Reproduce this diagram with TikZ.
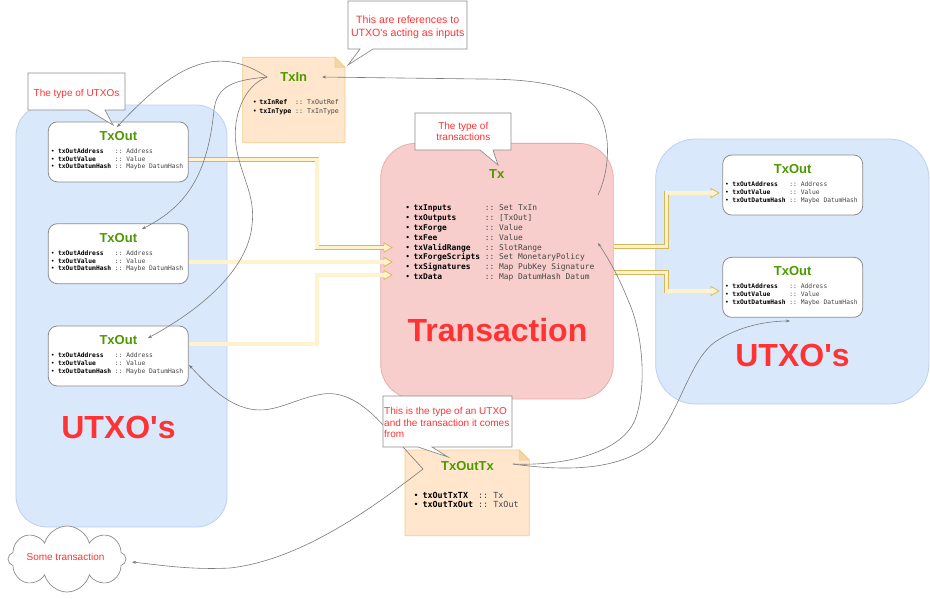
\documentclass[tikz,border=0pt]{standalone}
\usepackage{fontspec}
\setmainfont{Liberation Sans}[Ligatures=TeXOff]
\setmonofont{DejaVu Sans Mono}
\usetikzlibrary{shapes.symbols,arrows.meta,calc}
\definecolor{blueF}{HTML}{DAE8FC}
\definecolor{blueD}{HTML}{BCD0EE}
\definecolor{pinkF}{HTML}{F8CECC}
\definecolor{pinkD}{HTML}{E5AEAC}
\definecolor{orF}{HTML}{FFE6CC}
\definecolor{orD}{HTML}{F2CF8E}
\definecolor{orFold}{HTML}{F3D5A8}
\definecolor{yelF}{HTML}{FFF2CC}
\definecolor{yelD}{HTML}{D6B656}
\definecolor{grn}{HTML}{4D9900}
\definecolor{redT}{HTML}{FF3333}
\definecolor{lineC}{HTML}{7A7A7A}
\definecolor{boxD}{HTML}{8C8C8C}
\definecolor{typC}{HTML}{444444}
\newcommand\flist[4]{{\fontsize{#1}{#2}\selectfont\ttfamily\begin{tabular}[t]{@{}l@{\hskip #3}l@{\hskip 0.6em}l@{}}#4\end{tabular}}}
\newcommand\frow[2]{•&\textbf{#1}&\textcolor{typC}{:: #2}\\}
\newcommand\notebox[4]{%
  \filldraw[note] (#1,#2) -- ({#3-10},#2) -- (#3,{#2+10}) -- (#3,#4) -- (#1,#4) -- cycle;
  \filldraw[fold] ({#3-10},#2) -- ({#3-10},{#2+10}) -- (#3,{#2+10}) -- cycle;}
\newcommand\calloutbox[8]{%
  \filldraw[call] (#1,#2) -- (#3,#2) -- (#3,#4) -- (#6,#4) -- (#7,#8) -- (#5,#4) -- (#1,#4) -- cycle;}
\newcommand\yhead[1]{%
  \fill[yelF] ($(#1)+(-8,-4.6)$) -- (#1) -- ($(#1)+(-8,4.6)$) -- cycle;
  \draw[yelD,line width=0.7pt,line join=miter] ($(#1)+(-8,-2.3)$) -- ($(#1)+(-8,-4.6)$) -- (#1) -- ($(#1)+(-8,4.6)$) -- ($(#1)+(-8,2.3)$);}
\begin{document}
\begin{tikzpicture}[x=1pt,y=-1pt,
 panel/.style={draw=blueD, fill=blueF, line width=0.8pt, inner sep=0pt},
 txbox/.style={draw=pinkD, fill=pinkF, line width=0.8pt, rounded corners=35pt, inner sep=0pt},
 outbox/.style={draw=boxD, fill=white, line width=0.8pt, rounded corners=9pt, minimum width=140pt, minimum height=60pt, inner sep=0pt},
 ttl/.style={font=\fontsize{13}{15}\selectfont\bfseries, text=grn, inner sep=0pt},
 big/.style={font=\fontsize{32}{36}\selectfont\bfseries, text=redT, inner sep=0pt},
 fld/.style={anchor=base west, inner sep=0pt},
 yel/.style={draw=yelD, double=yelF, double distance=3.4pt, line width=0.7pt, line join=miter},
 conn/.style={draw=lineC, line width=0.6pt, -{Stealth[length=4pt,width=3pt]}},
 call/.style={draw=boxD, fill=white, line width=0.7pt},
 calltxt/.style={font=\fontsize{10}{12}\selectfont, text=redT, inner sep=0pt},
 note/.style={fill=orF, draw=orD, line width=0.8pt},
 fold/.style={fill=orFold, draw=orD, line width=0.8pt},
]
\useasboundingbox (0,0) rectangle (930,598);
% panels
\node[panel, rounded corners=31pt, minimum width=211pt, minimum height=422pt] (lpan) at (121.5,316) {};
\node[panel, rounded corners=40pt, minimum width=273.3pt, minimum height=265pt] (rpan) at (792.3,271.5) {};
\node[big] (lutxo) at (118.5,427) {UTXO's};
\node[big] (rutxo) at (792.5,355) {UTXO's};
% Tx box
\node[txbox, minimum width=232.6pt, minimum height=255.7pt] (tx) at (497,271.2) {};
% TxOut box centres
\path (118.3,151.9) coordinate (t1c) (118.3,253.7) coordinate (t2c) (118.3,356) coordinate (t3c)
      (792.7,185) coordinate (r1c) (792.7,287.3) coordinate (r2c);
% yellow arrows
\coordinate (h1) at (392,247.5);
\coordinate (h2) at (392,262);
\coordinate (h3) at (392,275);
\coordinate (h4) at (719,193);
\coordinate (h5) at (719,291);
\draw[yel] ($(t1c)+(70,7.5)$) -- ++(128.7,0) |- ($(h1)+(-8,0)$);
\draw[yel] ($(t2c)+(70,8.3)$) -- ($(h2)+(-8,0)$);
\draw[yel] ($(t3c)+(70,-12)$) -- ++(128.7,0) |- ($(h3)+(-8,0)$);
\draw[yel] ($(tx.east)+(0,-25)$) -- ++(52.7,0) |- ($(h4)+(-8,0)$);
\draw[yel] ($(tx.east)+(0,1)$) -- ++(52.7,0) |- ($(h5)+(-8,0)$);
\yhead{h1}\yhead{h2}\yhead{h3}\yhead{h4}\yhead{h5}
% TxOut boxes
\foreach \n in {t1,t2,t3,r1,r2}{
  \node[outbox] (\n) at (\n c) {};
  \node[ttl] (\n title) at ($(\n.north)+(0,14.5)$) {TxOut};
  \node[fld] (\n fields) at ($(\n.north west)+(2.7,32)$) {\flist{6.3}{7.7}{3.5pt}{\frow{txOutAddress}{Address}\frow{txOutValue}{Value}\frow{txOutDatumHash}{Maybe DatumHash}}};
}
% Tx texts
\node[ttl] (txtitle) at (496.7,174.3) {Tx};
\node[fld] (txfields) at (405.2,210.4) {\flist{7.9}{9.9}{3.4pt}{%
 \frow{txInputs}{Set TxIn}\frow{txOutputs}{[TxOut]}\frow{txForge}{Value}\frow{txFee}{Value}%
 \frow{txValidRange}{SlotRange}\frow{txForgeScripts}{Set MonetaryPolicy}%
 \frow{txSignatures}{Map PubKey Signature}\frow{txData}{Map DatumHash Datum}}};
\node[big] (txbig) at (497.5,330) {Transaction};
% notes
\notebox{242.7}{57.3}{345}{142.7}
\node[ttl] (txintitle) at (293.8,77.3) {TxIn};
\node[fld] (txinfields) at (252.7,104.5) {\flist{6.6}{8.6}{2.6pt}{\frow{txInRef}{TxOutRef}\frow{txInType}{TxInType}}};
\notebox{405}{450}{529.3}{535.7}
\node[ttl] (totitle) at (467.5,465.7) {TxOutTx};
\node[fld] (tofields) at (413.5,498) {\flist{8.4}{9.6}{3.8pt}{\frow{txOutTxTX}{Tx}\frow{txOutTxOut}{TxOut}}};
% connectors
\coordinate (inH) at (267,77);
\coordinate (otH) at (423,469);
\coordinate (otR) at (513,464);
\coordinate (a1) at (117,127);
\coordinate (a2) at (142,229);
\coordinate (a3) at (148,338);
\coordinate (a4) at (322,77);
\coordinate (a5) at (598,243);
\coordinate (a6) at (790,321);
\coordinate (a7) at (189,365);
\coordinate (a8) at (132,562);
\draw[conn] (inH) .. controls (215,42) and (172,68) .. (a1);
\draw[conn] (inH) .. controls (235,80) and (217,85) .. (214,110) .. controls (208,170) and (190,205) .. (a2);
\draw[conn] (inH) .. controls (245,85) and (232,115) .. (236,145) .. controls (240,175) and (256,195) .. (252,225) .. controls (248,270) and (200,310) .. (a3);
\draw[conn] (598,195) .. controls (610,170) and (612,130) .. (596,108) .. controls (575,82) and (520,79) .. (480,79) -- (a4);
\draw[conn] (otR) .. controls (560,466) and (620,455) .. (635,420) .. controls (648,385) and (642,330) .. (628,300) .. controls (618,275) and (608,258) .. (a5);
\draw[conn] (otR) .. controls (570,472) and (625,470) .. (655,440) .. controls (680,410) and (690,360) .. (715,342) .. controls (740,325) and (770,321) .. (a6);
\draw[conn] (otH) -- (383,425) .. controls (365,405) and (345,391) .. (323,394) .. controls (295,398) and (275,414) .. (250,409) .. controls (225,404) and (205,382) .. (a7);
\draw[conn] (otH) .. controls (370,510) and (300,560) .. (230,568) .. controls (190,570) and (160,565) .. (a8);
% callouts
\calloutbox{28}{73}{125}{110}{88}{105}{113}{125}
\node[calltxt, anchor=base] (cAt) at (76.5,96) {The type of UTXOs};
\calloutbox{348}{1}{467}{49}{360}{373}{348}{65}
\node[calltxt, anchor=north, align=center, font=\fontsize{10.6}{13}\selectfont] (cBt) at (407.7,15.6) {This are references to\\UTXO's acting as inputs};
\calloutbox{415}{113}{511}{150}{480}{493}{498}{165}
\node[calltxt, anchor=north, align=center, font=\fontsize{10}{11}\selectfont] (cCt) at (463.3,122) {The type of\\transactions};
\calloutbox{383}{396}{512}{447}{418}{432}{448}{457}
\node[calltxt, anchor=north west, align=left, font=\fontsize{10}{11.6}\selectfont] (cDt) at (384,407) {This is the type of an UTXO\\and the transaction it comes\\from};
% cloud
\node[cloud, cloud puffs=8, aspect=1.8, draw=boxD, fill=white, line width=0.7pt, minimum width=118pt, minimum height=66pt, inner sep=0pt] (cl) at (67,559) {};
\node[calltxt, anchor=base] (clt) at (65.5,560.8) {Some transaction};
\end{tikzpicture}
\end{document}
